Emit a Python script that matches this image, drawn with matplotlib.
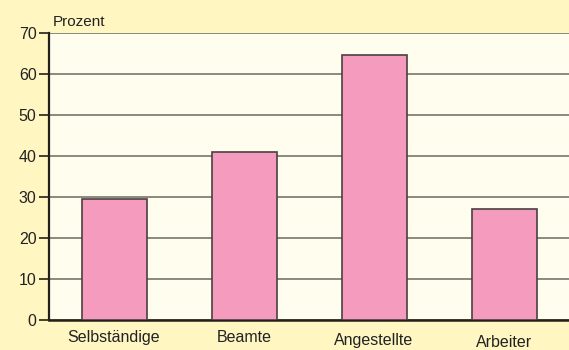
import matplotlib
matplotlib.use("Agg")
import matplotlib.pyplot as plt
from matplotlib.transforms import ScaledTranslation

categories = ["Selbständige", "Beamte", "Angestellte", "Arbeiter"]
values = [29.5, 41, 64.6, 27]
yticks = [0, 10, 20, 30, 40, 50, 60, 70]

plt.rcParams["font.family"] = ["Liberation Sans", "DejaVu Sans"]

fig = plt.figure(figsize=(5.69, 3.5), dpi=100, facecolor="#FFF6C2")
ax = fig.add_axes([49 / 569, 30 / 350, 520 / 569, 287 / 350])
ax.set_facecolor("#FFFDEE")

x = range(len(categories))
ax.bar(x, values, width=0.5, color="#F49BBE", edgecolor="#4a4040", linewidth=1.2, zorder=3)

ax.set_xlim(-0.5, 3.5)
ax.set_ylim(0, 70)
ax.set_yticks(yticks)
ax.yaxis.grid(True, color="#6a6a60", linewidth=1.1, zorder=0)
ax.set_axisbelow(True)

for s in ["top", "right"]:
    ax.spines[s].set_visible(False)
ax.spines["left"].set_linewidth(1.6)
ax.spines["bottom"].set_linewidth(1.8)
ax.spines["left"].set_color("#222018")
ax.spines["bottom"].set_color("#222018")

ax.tick_params(axis="y", length=7, width=1.2, color="#222018", labelsize=11.5, labelcolor="#222222", pad=2)
ax.tick_params(axis="x", length=0, labelsize=11.5, labelcolor="#222222", pad=7)
ax.set_xticks(list(x))
ax.set_xticklabels(categories)

# slight downward staggering of the last two labels
offsets = [0, 0, 3, 5]
for lab, dy in zip(ax.get_xticklabels(), offsets):
    lab.set_transform(lab.get_transform() + ScaledTranslation(0, -dy / 100, fig.dpi_scale_trans))

fig.text(53 / 569, 1 - 22 / 350, "Prozent", fontsize=11, color="#222222", va="center", ha="left")

fig.savefig("out.png", dpi=100, facecolor=fig.get_facecolor())
